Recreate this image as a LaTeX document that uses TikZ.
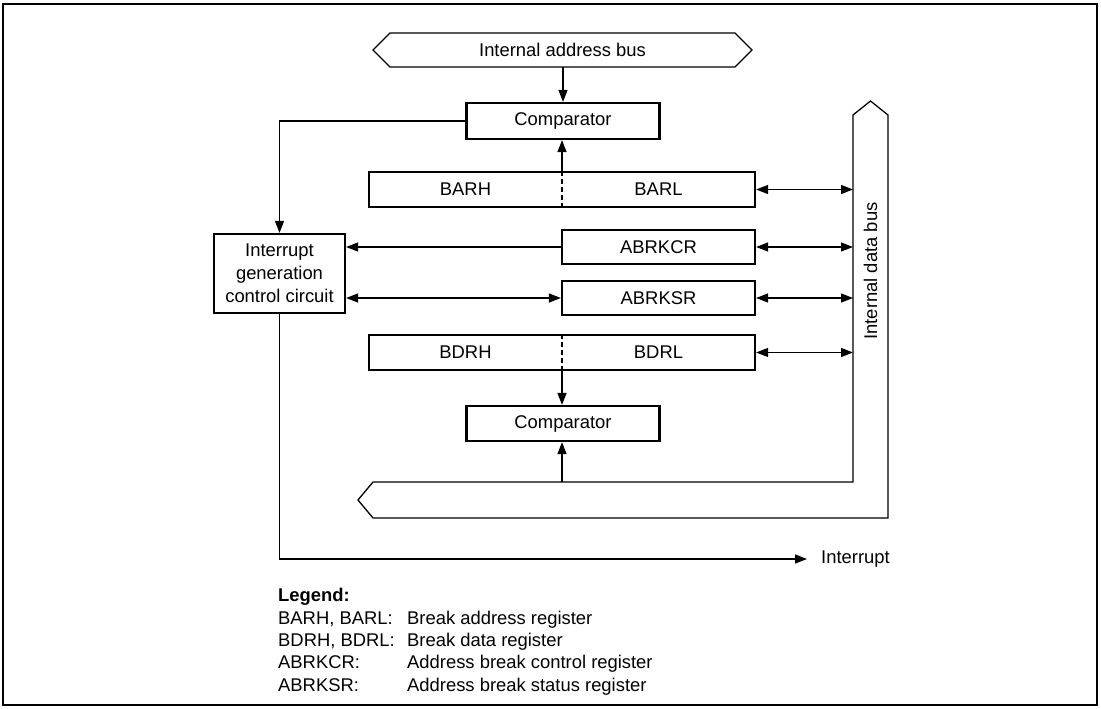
\documentclass[tikz,border=0pt]{standalone}
\usepackage{fontspec}
\setmainfont{Liberation Sans}
\usetikzlibrary{arrows.meta}
\begin{document}
\begin{tikzpicture}[x=1pt,y=-1pt,
  every node/.style={font=\fontsize{18.4}{23}\selectfont, inner sep=0pt},
  box/.style={draw, line width=2.2pt, rectangle},
  conn/.style={line width=1.2pt, -{Triangle[length=12pt,width=9pt]}},
  dconn/.style={line width=1.2pt, {Triangle[length=12pt,width=9pt]}-{Triangle[length=12pt,width=9pt]}},
  bus/.style={line width=1.3pt, line join=miter},
  split/.style={line width=1.2pt, dash pattern=on 5pt off 3pt},
  legend/.style={anchor=base west}]
\useasboundingbox (0,0) rectangle (1101,709);
\draw[line width=2.5pt] (3,4) rectangle (1097,705);

% internal address bus
\node[minimum width=379pt, minimum height=34pt] (abus) at (562.5,50) {Internal address bus};
\draw[bus] (373,50) -- (390,33) -- (735,33) -- (752,50) -- (735,67) -- (390,67) -- cycle;

% comparator 1
\node[box, minimum width=193pt, minimum height=36pt] (cmp1) at (563,121) {Comparator};
\draw[conn] (abus.south -| cmp1.north) -- (cmp1.north);

% BARH / BARL
\node[box, minimum width=386pt, minimum height=35pt] (bar) at (562,189.5) {};
\node (barh) at (465.5,189.5) {BARH};
\node (barl) at (658.5,189.5) {BARL};
\draw[split] (bar.north) -- (bar.south);
\draw[conn] (bar.north) -- (bar.north |- cmp1.south);

% ABRKCR / ABRKSR
\node[box, minimum width=193pt, minimum height=34pt] (abrkcr) at (658.5,247) {ABRKCR};
\node[box, minimum width=193pt, minimum height=34pt] (abrksr) at (658.5,298) {ABRKSR};

% BDRH / BDRL
\node[box, minimum width=386pt, minimum height=35pt] (bdr) at (562,352.5) {};
\node (bdrh) at (465.5,352.5) {BDRH};
\node (bdrl) at (658.5,352.5) {BDRL};
\draw[split] (bdr.north) -- (bdr.south);

% comparator 2
\node[box, minimum width=193pt, minimum height=35pt] (cmp2) at (563,423.5) {Comparator};
\draw[conn] (bdr.south) -- (bdr.south |- cmp2.north);

% interrupt generation control circuit
\node[box, minimum width=131pt, minimum height=79pt, align=center] (igcc) at (279.5,273.5) {Interrupt\\generation\\control circuit};
\draw[conn] (cmp1.west) -| (igcc.north);
\draw[conn] (abrkcr.west) -- (abrkcr.west -| igcc.east);
\draw[dconn] (igcc.east |- abrksr.west) -- (abrksr.west);

% internal data bus
\coordinate (dbx) at (853,0);
\coordinate (dbtop) at (562,482);
\draw[bus] (853,482) -- (853,115) -- (870.5,101) -- (888,115) -- (888,518) -- (373,518) -- (358,500) -- (373,482) -- cycle;
\node[rotate=90] (dbus) at (870.5,271) {Internal data bus};
\draw[conn] (dbtop) -- (dbtop |- cmp2.south);
\draw[dconn] (bar.east) -- (bar.east -| dbx);
\draw[dconn] (abrkcr.east) -- (abrkcr.east -| dbx);
\draw[dconn] (abrksr.east) -- (abrksr.east -| dbx);
\draw[dconn] (bdr.east) -- (bdr.east -| dbx);

% interrupt output
\coordinate (intc) at (807,559);
\draw[conn] (igcc.south) |- (intc);
\node[anchor=west] (inttext) at (821,559) {Interrupt};

% legend
\node[legend, font=\fontsize{18.4}{23}\selectfont\bfseries] (leg) at (278,601.6) {Legend:};
\node[legend] (l1a) at (278,624.6) {BARH, BARL:};
\node[legend] (l1b) at (407,624.6) {Break address register};
\node[legend] (l2a) at (278,646.6) {BDRH, BDRL:};
\node[legend] (l2b) at (407,646.6) {Break data register};
\node[legend] (l3a) at (278,668.6) {ABRKCR:};
\node[legend] (l3b) at (407,668.6) {Address break control register};
\node[legend] (l4a) at (278,691.6) {ABRKSR:};
\node[legend] (l4b) at (407,691.6) {Address break status register};
\end{tikzpicture}
\end{document}
